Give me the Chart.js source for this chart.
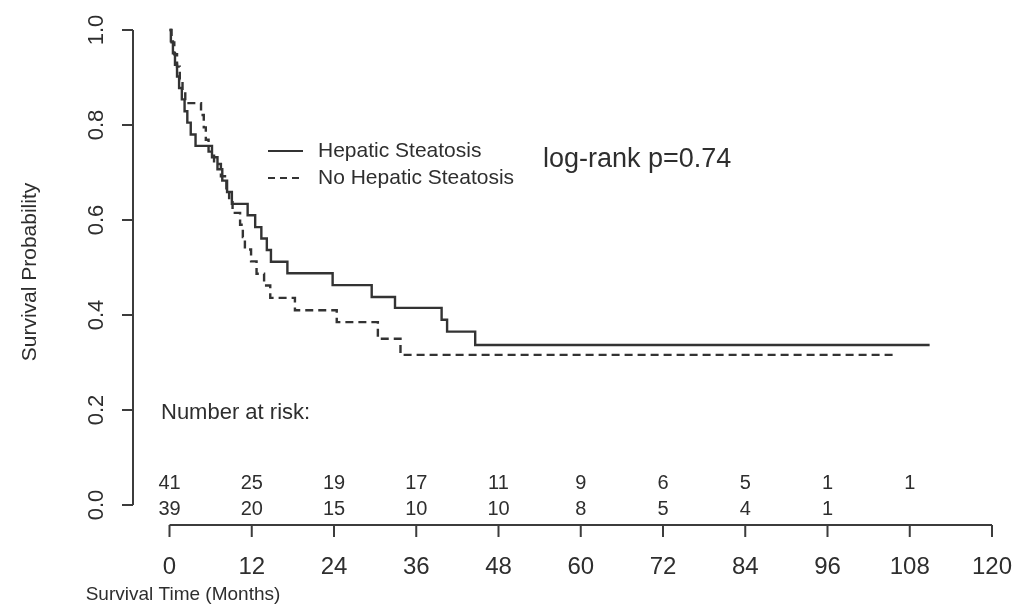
<!DOCTYPE html>
<html>
<head>
<meta charset="utf-8">
<script src="https://cdn.jsdelivr.net/npm/chart.js@4.4.0/dist/chart.umd.min.js"></script>
<style>
  html, body { margin: 0; padding: 0; background: #fff; }
  #wrap { width: 1018px; height: 608px; position: relative; }
</style>
</head>
<body>
<div id="wrap"><canvas id="kmChart"></canvas></div>
<script>
// ============================ data

// Hepatic Steatosis (solid line): event times (months) and survival after each step
const hsTimes = [0, 0.2, 0.5, 0.8, 1.1, 1.4, 1.8, 2.2, 2.6, 3.1, 3.8,
  6.2, 7.0, 7.7, 8.4, 9.1, 11.4, 12.5, 13.4, 14.2, 14.8,
  17.2, 23.8, 29.5, 32.9, 39.7, 40.5, 44.6, 110.9];
const hsSurv = [1, 0.976, 0.951, 0.927, 0.902, 0.878, 0.854, 0.829, 0.805, 0.780, 0.756,
  0.732, 0.707, 0.683, 0.659, 0.634, 0.610, 0.585, 0.561, 0.537, 0.512,
  0.488, 0.463, 0.438, 0.415, 0.390, 0.365, 0.337, 0.337];

// No Hepatic Steatosis (dashed line)
const noTimes = [0, 0.3, 0.7, 1.1, 1.5, 1.9, 2.3, 4.6, 5.0, 5.3, 5.7,
  6.5, 7.5, 8.3, 8.7, 9.2, 10.3, 10.7, 11.0, 11.9, 12.7, 13.8, 14.7,
  18.3, 24.4, 30.4, 33.7, 105.5];
const noSurv = [1, 0.974, 0.949, 0.923, 0.897, 0.872, 0.846, 0.821, 0.795, 0.769, 0.744,
  0.718, 0.692, 0.667, 0.641, 0.615, 0.590, 0.564, 0.538, 0.513, 0.487, 0.462, 0.436,
  0.410, 0.385, 0.350, 0.316, 0.316];

// axis ticks
const xTicks = [0, 12, 24, 36, 48, 60, 72, 84, 96, 108, 120];
const yTicks = [0, 0.2, 0.4, 0.6, 0.8, 1.0];

// number at risk table
const riskTimes = [0, 12, 24, 36, 48, 60, 72, 84, 96, 108];
const riskHS = [41, 25, 19, 17, 11, 9, 6, 5, 1, 1];
const riskNo = [39, 20, 15, 10, 10, 8, 5, 4, 1];

const seriesNames = ['Hepatic Steatosis', 'No Hepatic Steatosis'];

// ============================ helpers

const toPoints = (xs, ys) => xs.map((x, i) => ({ x: x, y: ys[i] }));
const FONT = '"Liberation Sans", Arial, Helvetica, sans-serif';
const INK = '#2e2e2e';
const LINE = '#333';

// R-style detached axes, legend, annotation and risk table
const decorations = {
  id: 'decorations',
  afterDraw(chart) {
    const c = chart.ctx;
    const xs = chart.scales.x;
    const ys = chart.scales.y;
    c.save();
    c.strokeStyle = '#3c3c3c';
    c.fillStyle = INK;
    c.lineWidth = 2;

    // y axis
    const yAxisX = 133;
    c.beginPath();
    c.moveTo(yAxisX, ys.getPixelForValue(1));
    c.lineTo(yAxisX, ys.getPixelForValue(0));
    yTicks.forEach(v => {
      const py = ys.getPixelForValue(v);
      c.moveTo(yAxisX, py);
      c.lineTo(yAxisX - 11, py);
    });
    c.stroke();
    c.font = '22px ' + FONT;
    c.textAlign = 'center';
    c.textBaseline = 'middle';
    yTicks.forEach(v => {
      const py = ys.getPixelForValue(v);
      c.save();
      c.translate(97, py);
      c.rotate(-Math.PI / 2);
      c.fillText(v.toFixed(1), 0, 0);
      c.restore();
    });

    // x axis
    const xAxisY = 525;
    c.beginPath();
    c.moveTo(xs.getPixelForValue(0), xAxisY);
    c.lineTo(xs.getPixelForValue(120), xAxisY);
    xTicks.forEach(v => {
      const px = xs.getPixelForValue(v);
      c.moveTo(px, xAxisY);
      c.lineTo(px, xAxisY + 12);
    });
    c.stroke();
    c.font = '24px ' + FONT;
    xTicks.forEach(v => {
      c.fillText(String(v), xs.getPixelForValue(v), 567);
    });

    // axis titles
    c.font = '19px ' + FONT;
    c.fillText('Survival Time (Months)', 183, 595);
    c.font = '21px ' + FONT;
    c.save();
    c.translate(30, 272);
    c.rotate(-Math.PI / 2);
    c.fillText('Survival Probability', 0, 0);
    c.restore();

    // number at risk
    c.font = '22px ' + FONT;
    c.textAlign = 'left';
    c.fillText('Number at risk:', 161, 413);
    c.font = '20px ' + FONT;
    c.textAlign = 'center';
    riskTimes.forEach((t, i) => {
      const px = xs.getPixelForValue(t);
      if (riskHS[i] !== undefined) c.fillText(String(riskHS[i]), px, 483);
      if (riskNo[i] !== undefined) c.fillText(String(riskNo[i]), px, 509);
    });

    // legend
    c.strokeStyle = LINE;
    c.lineWidth = 2;
    c.beginPath();
    c.moveTo(268, 151);
    c.lineTo(303, 151);
    c.stroke();
    c.setLineDash([7, 5]);
    c.beginPath();
    c.moveTo(268, 178);
    c.lineTo(303, 178);
    c.stroke();
    c.setLineDash([]);
    c.font = '21px ' + FONT;
    c.textAlign = 'left';
    c.fillText(seriesNames[0], 318, 151);
    c.fillText(seriesNames[1], 318, 178);

    // log-rank annotation
    c.font = '27px ' + FONT;
    c.fillText('log-rank p=0.74', 543, 160);
    c.restore();
  }
};

// ============================ chart

const ctx = document.getElementById('kmChart').getContext('2d');
const kmChart = new Chart(ctx, {
  type: 'line',
  data: {
    datasets: [
      {
        label: seriesNames[0],
        data: toPoints(hsTimes, hsSurv),
        borderColor: LINE,
        borderWidth: 2.4,
        stepped: true,
        pointRadius: 0,
        fill: false,
        clip: false
      },
      {
        label: seriesNames[1],
        data: toPoints(noTimes, noSurv),
        borderColor: LINE,
        borderWidth: 2.4,
        borderDash: [8, 5],
        stepped: true,
        pointRadius: 0,
        fill: false,
        clip: false
      }
    ]
  },
  options: {
    responsive: true,
    maintainAspectRatio: false,
    animation: false,
    layout: {
      padding: { left: 169.5, right: 26, top: 30, bottom: 103 }
    },
    plugins: {
      legend: { display: false },
      tooltip: { enabled: false }
    },
    scales: {
      x: { type: 'linear', min: 0, max: 120, display: false },
      y: { type: 'linear', min: 0, max: 1, display: false }
    }
  },
  plugins: [decorations]
});
</script>
</body>
</html>
